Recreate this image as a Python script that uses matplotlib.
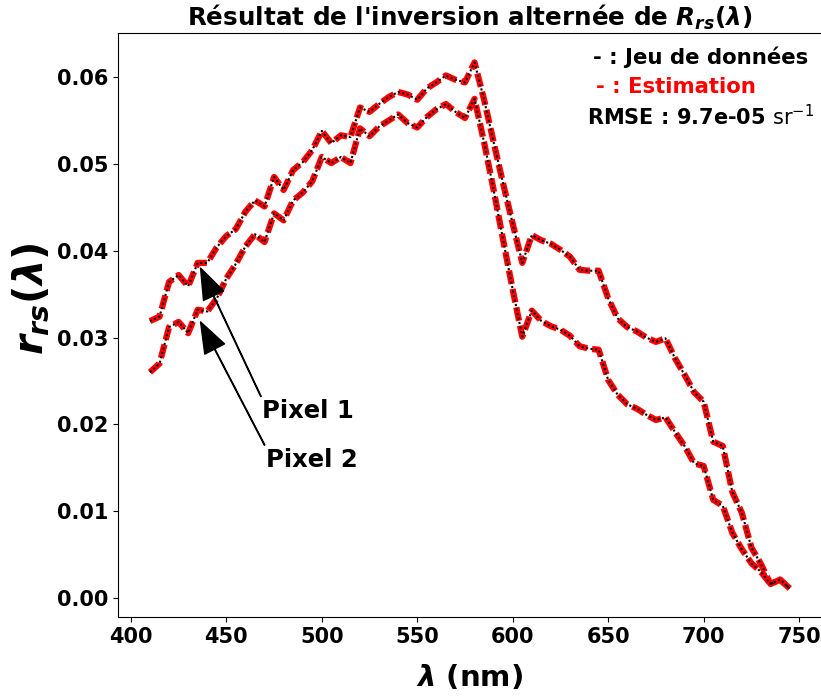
import numpy as np
import matplotlib
matplotlib.use("Agg")
import matplotlib.pyplot as plt

plt.rcParams["mathtext.fontset"] = "custom"
plt.rcParams["mathtext.rm"] = "DejaVu Sans:bold"
plt.rcParams["mathtext.it"] = "DejaVu Sans:italic:bold"
plt.rcParams["mathtext.bf"] = "DejaVu Sans:bold"
plt.rcParams["mathtext.sf"] = "DejaVu Sans"

# wavelengths (nm)
wavelengths = np.arange(410, 750, 5)

# r_rs, pixel 1 (upper curve) and pixel 2 (lower curve)
pixel1 = [0.0319, 0.0324, 0.0364, 0.0372, 0.0359, 0.0386, 0.0386, 0.0404, 0.0417, 0.0425,
          0.0445, 0.0458, 0.0451, 0.0485, 0.0470, 0.0493, 0.0502, 0.0516, 0.0538, 0.0524,
          0.0533, 0.0531, 0.0565, 0.0560, 0.0569, 0.0577, 0.0583, 0.0580, 0.0574, 0.0587,
          0.0594, 0.0602, 0.0597, 0.0594, 0.0617, 0.0574, 0.0525, 0.0477, 0.0431, 0.0386,
          0.0418, 0.0412, 0.0408, 0.0401, 0.0393, 0.0378, 0.0377, 0.0377, 0.0345, 0.0322,
          0.0312, 0.0307, 0.0300, 0.0295, 0.0299, 0.0276, 0.0257, 0.0237, 0.0226, 0.0180,
          0.0175, 0.0122, 0.0098, 0.0058, 0.0039, 0.0016, 0.0021, 0.0011]
pixel2 = [0.0260, 0.0270, 0.0312, 0.0318, 0.0305, 0.0332, 0.0330, 0.0345, 0.0368, 0.0385,
          0.0405, 0.0419, 0.0410, 0.0443, 0.0435, 0.0458, 0.0467, 0.0480, 0.0508, 0.0501,
          0.0508, 0.0501, 0.0541, 0.0532, 0.0543, 0.0550, 0.0557, 0.0547, 0.0542, 0.0554,
          0.0563, 0.0569, 0.0560, 0.0553, 0.0575, 0.0525, 0.0470, 0.0412, 0.0355, 0.0301,
          0.0331, 0.0319, 0.0313, 0.0309, 0.0302, 0.0290, 0.0287, 0.0286, 0.0251, 0.0234,
          0.0223, 0.0218, 0.0211, 0.0205, 0.0208, 0.0191, 0.0175, 0.0155, 0.0152, 0.0113,
          0.0106, 0.0075, 0.0056, 0.0040, 0.0030, 0.0016, 0.0021, 0.0011]
# the estimation overlaps the data almost exactly (RMSE ~ 1e-4)
estim1 = pixel1
estim2 = pixel2

fig = plt.figure(figsize=(8.21, 6.97), dpi=100)
ax = fig.add_axes([0.1437, 0.1148, 0.857, 0.838])

for est, dat in [(estim1, pixel1), (estim2, pixel2)]:
    ax.plot(wavelengths, est, color="red", lw=4.5, linestyle=(0, (2.2, 0.8)))
    ax.plot(wavelengths, dat, color="black", lw=1.5, linestyle=(0, (1, 1.2)))

ax.set_ylim(-0.0022, 0.0651)
ax.set_xticks([400, 450, 500, 550, 600, 650, 700, 750])
ax.set_yticks([0.0, 0.01, 0.02, 0.03, 0.04, 0.05, 0.06])
ax.set_yticklabels(["0.00", "0.01", "0.02", "0.03", "0.04", "0.05", "0.06"])
for lab in ax.get_xticklabels() + ax.get_yticklabels():
    lab.set_fontsize(15)
    lab.set_fontweight("bold")

ax.set_xlabel(r"$\lambda$ (nm)", fontsize=21, fontweight="bold", labelpad=12)
ax.set_ylabel(r"$r_{rs}(\lambda)$", fontsize=29, fontweight="bold")
ax.yaxis.set_label_coords(-0.094, 0.545)
ax.set_title(r"Résultat de l'inversion alternée de $R_{rs}(\lambda)$",
             fontsize=17.7, fontweight="bold", pad=5)

ax.text(0.6747, 0.9589, "- : Jeu de données", color="black", fontsize=15.3,
        fontweight="bold", va="center", transform=ax.transAxes)
ax.text(0.679, 0.9075, "- : Estimation", color="red", fontsize=15.3,
        fontweight="bold", va="center", transform=ax.transAxes)
ax.text(0.6662, 0.8562, r"RMSE : 9.7e-05 $\mathsf{sr^{-1}}$", color="black",
        fontsize=15, fontweight="bold", va="center", transform=ax.transAxes)

arrow = dict(facecolor="black", width=0.4, headwidth=16, headlength=22, shrink=0)
ax.annotate("Pixel 1", xy=(436.5, 0.0380), xytext=(468.8, 0.0207),
            fontsize=17.5, fontweight="bold", arrowprops=arrow)
ax.annotate("Pixel 2", xy=(436.5, 0.0318), xytext=(470.8, 0.0151),
            fontsize=17.5, fontweight="bold", arrowprops=arrow)

fig.savefig("out.png", dpi=100)
